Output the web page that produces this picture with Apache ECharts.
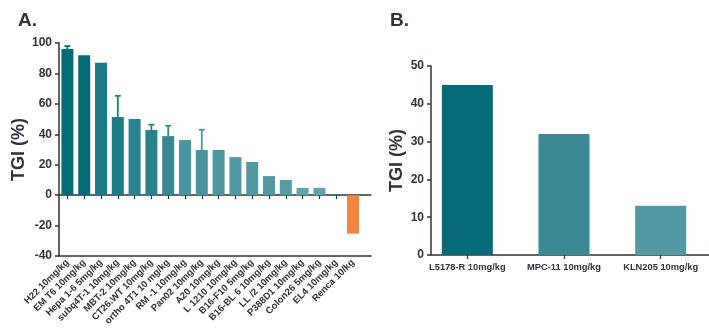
<!DOCTYPE html>
<html><head><meta charset="utf-8">
<script src="https://cdn.jsdelivr.net/npm/echarts@6/dist/echarts.min.js"></script>
<style>html,body{margin:0;padding:0;background:#fff}#c{width:709px;height:334px}</style>
</head><body><div id="c"></div>
<script>
const catsA = ['H22 10mg/kg','EM T6 10mg/kg','Hepa 1-6 5mg/kg','subq4T-1 10mg/kg','MBT-2 10mg/kg','CT26.WT 10mg/kg','ortho 4T1 10 mg/kg','RM -1 10mg/kg','Pan02 10mg/kg','A20 10mg/kg','L 1210 10mg/kg','B16-F10 5mg/kg','B16-BL 6 10mg/kg','LL /2 10mg/kg','P388D1 10mg/kg','Colon26 5mg/kg','EL4 10mg/kg','Renca 10/kg'];
const valsA = [96, 92, 87, 51.3, 50, 42.8, 38.8, 36.2, 29.7, 29.7, 25, 21.8, 12.5, 10, 4.8, 4.8, 0.7, -25.3];
const errA  = [2, 0, 0, 14, 0, 3.5, 6.8, 0, 13.3, 0, 0, 0, 0, 0, 0, 0, 0, 0];
const colorsA = ['#076a77','#076a77','#1e7a85','#1e7a85','#2b828c','#2b828c','#3a8893','#4a959e','#4a959e','#4d979f','#5299a2','#5299a2','#5299a2','#569ca5','#5fa3ab','#5fa3ab','#3e7a83','#f5843f'];
const ticksA = [-40, -20, 0, 20, 40, 60, 80, 100];

const catsB = ['L5178-R 10mg/kg','MPC-11 10mg/kg','KLN205 10mg/kg'];
const valsB = [45, 32, 13];
const colorsB = ['#076a77','#3a8893','#5299a2'];
const ticksB = [0, 10, 20, 30, 40, 50];

const txt = '#2e323c';
const axc = '#2e323c';
const font = 'Liberation Sans';
const chart = echarts.init(document.getElementById('c'), null, {renderer:'canvas'});
chart.setOption({
  animation: false,
  title: [
    {text:'A.', left: 13, top: 6, textStyle:{fontFamily:font, fontWeight:'bold', fontSize:19, color:txt}},
    {text:'B.', left: 385, top: 6, textStyle:{fontFamily:font, fontWeight:'bold', fontSize:19, color:txt}}
  ],
  grid: [
    {left: 59, top: 43, width: 302.4, height: 213},
    {left: 59, top: 43, width: 312, height: 213},
    {left: 419, top: 66, width: 301.5, height: 189},
    {left: 431, top: 66, width: 290, height: 189}
  ],
  xAxis: [
    {gridIndex:0, type:'category', data: catsA,
     axisLine:{show:false}, axisTick:{show:true, alignWithLabel:true, length:4, lineStyle:{color:axc, width:1.2}},
     axisLabel:{rotate:45, interval:0, fontFamily:font, fontWeight:'bold', fontSize:9.5, color:txt, margin:5}},
    {gridIndex:1, type:'value', min:0, max:1, position:'bottom',
     axisLine:{show:true, onZero:false, lineStyle:{color:axc, width:1.5}}, axisTick:{show:false}, axisLabel:{show:false}, splitLine:{show:false}},
    {gridIndex:1, type:'value', min:0, max:1, position:'top',
     axisLine:{show:true, onZero:true, lineStyle:{color:axc, width:1.5}}, axisTick:{show:false}, axisLabel:{show:false}, splitLine:{show:false}},
    {gridIndex:2, type:'category', data: catsB,
     axisLine:{show:false}, axisTick:{show:true, alignWithLabel:true, length:4, lineStyle:{color:axc, width:1.2}},
     axisLabel:{interval:0, fontFamily:font, fontWeight:'bold', fontSize:9.3, color:txt, margin:8}},
    {gridIndex:3, type:'value', min:0, max:1,
     axisLine:{show:true, onZero:false, lineStyle:{color:axc, width:1.5}}, axisTick:{show:false}, axisLabel:{show:false}, splitLine:{show:false}}
  ],
  yAxis: [
    {gridIndex:0, type:'value', min:ticksA[0], max:ticksA[ticksA.length-1], interval:20,
     name:'TGI (%)', nameLocation:'middle', nameGap:27, nameRotate:90,
     nameTextStyle:{fontFamily:font, fontWeight:'bold', fontSize:18, color:txt},
     axisLine:{show:true, lineStyle:{color:axc, width:1.5}}, axisTick:{show:true, length:4, lineStyle:{color:axc, width:1.5}},
     axisLabel:{fontFamily:font, fontWeight:'bold', fontSize:12, color:txt, margin:7}, splitLine:{show:false}},
    {gridIndex:1, type:'value', min:ticksA[0], max:ticksA[ticksA.length-1], show:false},
    {gridIndex:2, type:'value', min:ticksB[0], max:ticksB[ticksB.length-1], show:false},
    {gridIndex:3, type:'value', min:ticksB[0], max:ticksB[ticksB.length-1], interval:10,
     name:'TGI (%)', nameLocation:'middle', nameGap:25, nameRotate:90,
     nameTextStyle:{fontFamily:font, fontWeight:'bold', fontSize:18, color:txt},
     axisLine:{show:true, lineStyle:{color:axc, width:1.5}}, axisTick:{show:true, length:4, lineStyle:{color:axc, width:1.5}},
     axisLabel:{fontFamily:font, fontWeight:'bold', fontSize:12, color:txt, margin:7}, splitLine:{show:false}}
  ],
  series: [
    {type:'bar', xAxisIndex:0, yAxisIndex:0, barWidth:12,
     data: valsA.map((v,i)=>({value:v, itemStyle:{color:colorsA[i]}}))},
    {type:'custom', xAxisIndex:0, yAxisIndex:0, z:1,
     data: valsA.map((v,i)=>[i, v, v+errA[i]]),
     renderItem: function(params, api){
       const i = api.value(0);
       if (errA[i] <= 0) return null;
       const p0 = api.coord([i, api.value(1)]);
       const p1 = api.coord([i, api.value(2)]);
       const c = colorsA[i];
       return {type:'group', children:[
         {type:'line', shape:{x1:p0[0], y1:p0[1], x2:p1[0], y2:p1[1]}, style:{stroke:c, lineWidth:1.8}},
         {type:'line', shape:{x1:p1[0]-3, y1:p1[1], x2:p1[0]+3, y2:p1[1]}, style:{stroke:c, lineWidth:1.8}}
       ]};
     }},
    {type:'bar', xAxisIndex:3, yAxisIndex:2, barWidth:51,
     data: valsB.map((v,i)=>({value:v, itemStyle:{color:colorsB[i]}}))}
  ]
});
</script></body></html>
